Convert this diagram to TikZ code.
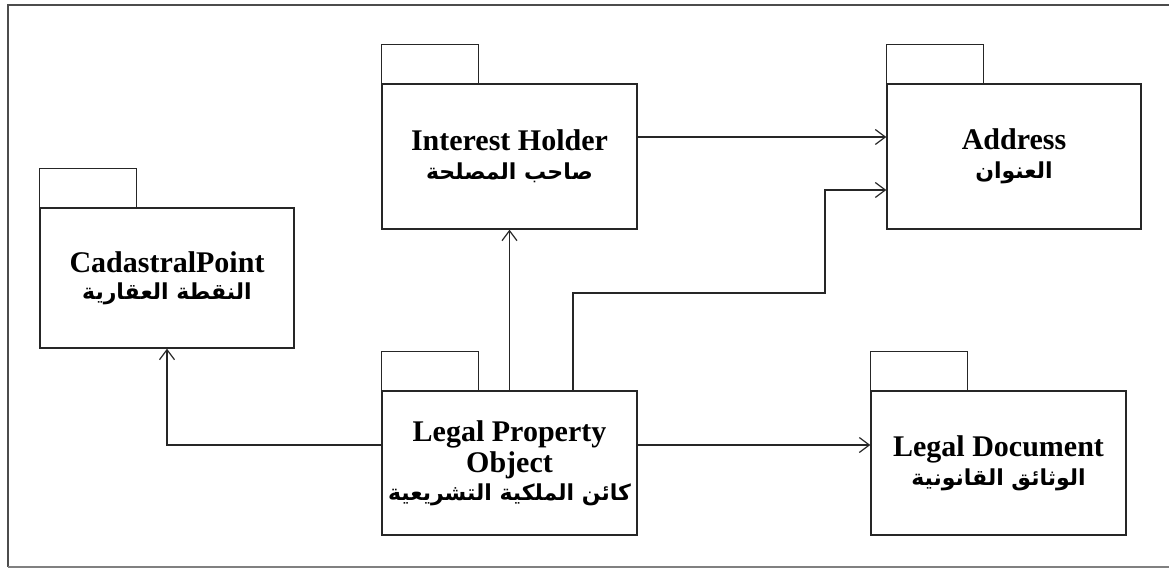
\documentclass[tikz,border=0pt]{standalone}
\usepackage{fontspec}
\setmainfont{Liberation Serif}
\newfontfamily\arabicfont[Script=Arabic]{DejaVu Sans}
\TeXXeTstate=1
\usetikzlibrary{arrows.meta}
\newcommand{\ar}[1]{{\arabicfont\fontsize{22}{26}\selectfont\beginR #1\endR}}
\begin{document}
\begin{tikzpicture}[x=1pt,y=1pt,
  pkg/.style={draw=black!85,line width=1.4pt,rectangle,inner sep=0pt,align=center,
    font=\bfseries\fontsize{30}{32}\selectfont},
  tabbox/.style={draw=black!85,line width=1.4pt},
  conn/.style={draw=black!85,line width=1.25pt,-{Straight Barb[length=10pt,width=15pt,line width=1.2pt]}}]
\useasboundingbox (0,0) rectangle (1169,568);
\draw[black!70,line width=1.6pt] (8,1) -- (8,563) -- (1169,563);
\draw[black!50,line width=1.2pt] (8,1) -- (1169,1);
% packages
\node[pkg,minimum width=255pt,minimum height=145pt] (ih) at (509.5,411.5) {Interest Holder\\[-3pt]\ar{صاحب المصلحة}};
\node[pkg,minimum width=254pt,minimum height=145pt] (ad) at (1014,411.5) {Address\\[-3pt]\ar{العنوان}};
\node[pkg,minimum width=254pt,minimum height=140pt] (cp) at (167,290) {CadastralPoint\\[-5pt]\ar{النقطة العقارية}};
\node[pkg,minimum width=255pt,minimum height=144pt] (lpo) at (509.5,105) {Legal Property\\[-1pt]Object\\[-4pt]\ar{كائن الملكية التشريعية}};
\node[pkg,minimum width=255pt,minimum height=144pt] (ld) at (998.5,105) {Legal Document\\[-3pt]\ar{الوثائق القانونية}};
% tabs
\foreach \n in {ih,ad,cp,lpo,ld}{
  \draw[tabbox] (\n.north west) rectangle ++(97,39);
}
% connectors
\coordinate (k1) at (825,275);
\draw[conn] ([yshift=19.5pt]ih.east) -- ([yshift=19.5pt]ad.west);
\draw[conn] (lpo.north) -- (ih.south);
\draw[conn] ([xshift=63.5pt]lpo.north) |- (k1) |- ([yshift=-33.5pt]ad.west);
\draw[conn] ([yshift=18pt]lpo.west) -| (cp.south);
\draw[conn] ([yshift=18pt]lpo.east) -- ([yshift=18pt]ld.west);
\end{tikzpicture}
\end{document}
